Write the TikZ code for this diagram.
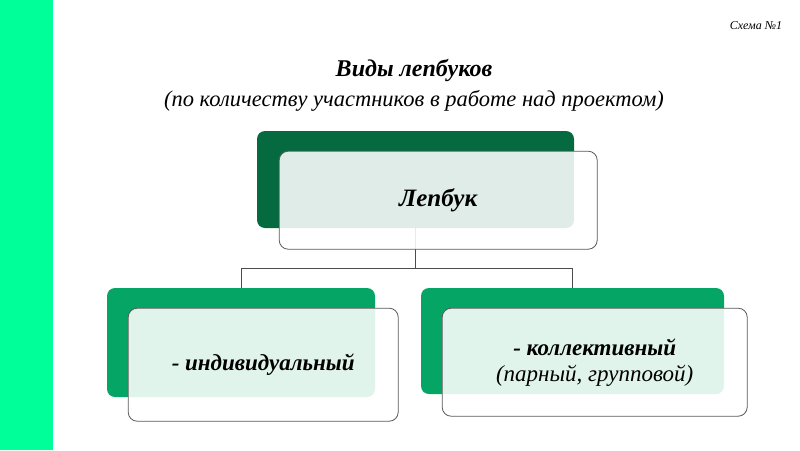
\documentclass[tikz,border=0pt]{standalone}
\usepackage{fontspec}
\setmainfont{Liberation Serif}
\usetikzlibrary{positioning}
\definecolor{stripe}{HTML}{00FF99}
\definecolor{darkgreen}{HTML}{066A40}
\definecolor{midgreen}{HTML}{05A565}

\begin{document}
\begin{tikzpicture}[
    x=1pt, y=-1pt,
    font=\itshape,
    back/.style={rectangle, rounded corners=8pt, inner sep=0pt},
    front/.style={rectangle, draw=black!65, line width=0.8pt, rounded corners=9pt,
                  fill=white, fill opacity=0.88, text opacity=1, align=center,
                  inner sep=0pt, anchor=north west},
    link/.style={draw=black!70, line width=0.8pt},
]
\useasboundingbox (0,0) rectangle (800,450);
\fill[stripe] (0,0) rectangle (53,450);

% Headings
\node[font=\itshape\fontsize{12}{14}\selectfont] (scheme) at (756,26) {Схема №1};
\node[font=\itshape\bfseries\fontsize{24}{28}\selectfont] (title) at (414,70) {Виды лепбуков};
\node[below=2pt of title, font=\itshape\fontsize{22.5}{26}\selectfont] (subtitle)
    {(по количеству участников в работе над проектом)};

% Back boxes
\node[back, fill=darkgreen, minimum width=317pt, minimum height=97pt] (top) at (415.5,179.5) {};
\node[back, fill=midgreen, minimum width=268pt, minimum height=109pt] (indiv) at (241,342.5) {};
\node[back, fill=midgreen, minimum width=303pt, minimum height=106pt] (coll) at (572.5,341) {};

% Connections
\coordinate[below=40pt of top.south] (fork);
\draw[link] (top.south) -- (fork);
\draw[link] (fork) -| (indiv.north);
\draw[link] (fork) -| (coll.north);

% Front boxes
\node[front, minimum width=318pt, minimum height=98pt,
      font=\itshape\bfseries\fontsize{25}{29}\selectfont]
    at ([xshift=22pt,yshift=-20pt]top.north west) (topf) {Лепбук};
\node[front, minimum width=270pt, minimum height=113pt,
      font=\itshape\bfseries\fontsize{23}{27}\selectfont]
    at ([xshift=21pt,yshift=-20pt]indiv.north west) (indivf) {- индивидуальный};
\node[front, minimum width=305pt, minimum height=108pt,
      font=\itshape\fontsize{23}{26}\selectfont]
    at ([xshift=21pt,yshift=-20pt]coll.north west) (collf)
    {\textbf{- коллективный}\\(парный, групповой)};

\end{tikzpicture}
\end{document}
